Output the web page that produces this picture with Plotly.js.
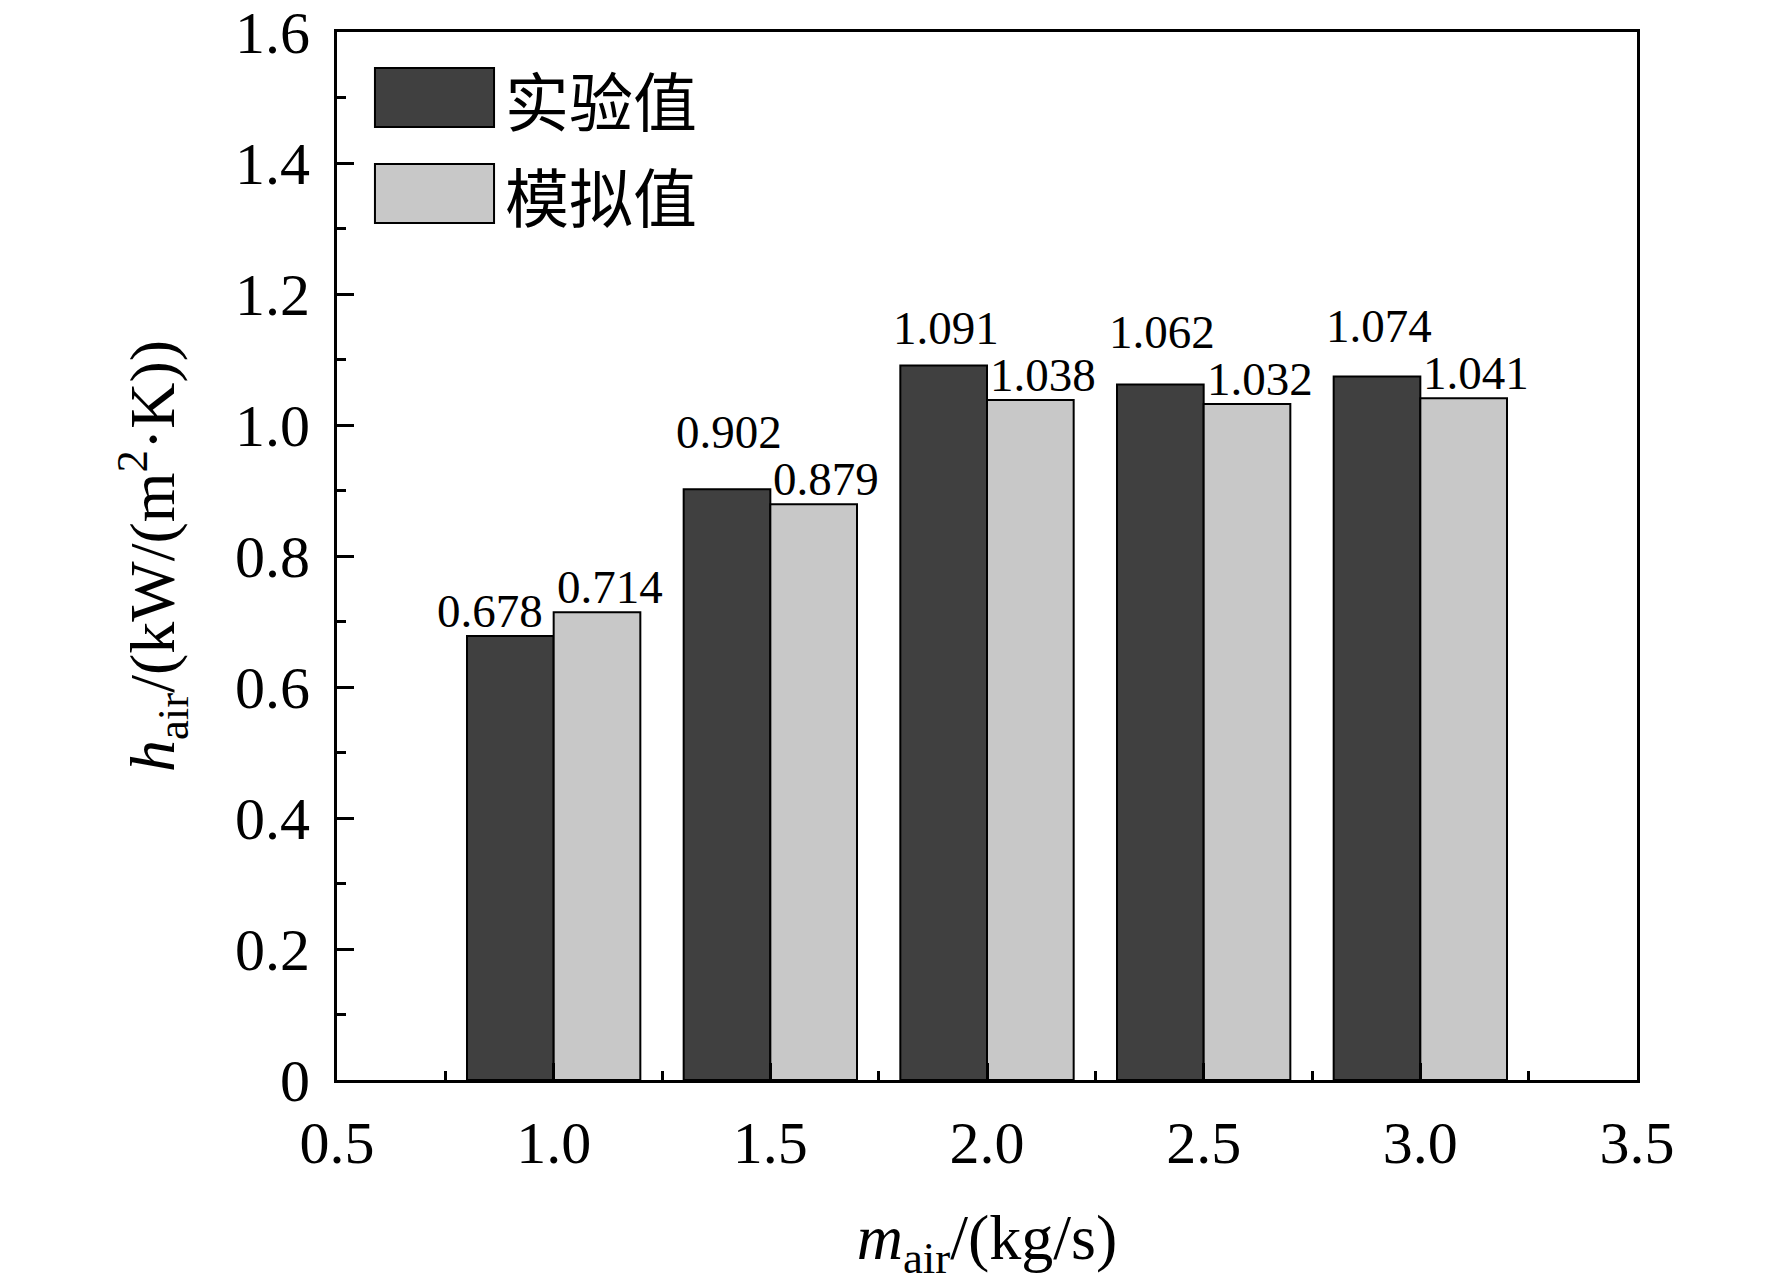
<!DOCTYPE html>
<html>
<head>
<meta charset="utf-8">
<script src="https://cdn.plot.ly/plotly-3.0.1.min.js"></script>
<style>html,body{margin:0;padding:0;background:#fff;}</style>
</head>
<body>
<div id="chart" style="width:1772px;height:1288px;"></div>
<script>
// Data
var massFlow = [1.0, 1.5, 2.0, 2.5, 3.0];
var expValues = [0.678, 0.902, 1.091, 1.062, 1.074];
var simValues = [0.714, 0.879, 1.038, 1.032, 1.041];
var seriesNames = ['实验值', '模拟值'];
var yTickVals = [0, 0.2, 0.4, 0.6, 0.8, 1.0, 1.2, 1.4, 1.6];
var yTickText = ['0', '0.2', '0.4', '0.6', '0.8', '1.0', '1.2', '1.4', '1.6'];
var xTickVals = [0.5, 1.0, 1.5, 2.0, 2.5, 3.0, 3.5];
var xTickText = ['0.5', '1.0', '1.5', '2.0', '2.5', '3.0', '3.5'];

var serif = 'Liberation Serif, Times New Roman, serif';
var cjk = 'Noto Sans CJK SC, sans-serif';
var darkCol = '#404040';
var lightCol = '#c8c8c8';

var W = 1772, H = 1288;
var margin = {l: 337, r: 135, t: 32, b: 208, pad: 0};
var yRange = [0, 1.6];
var xRange = [0.5, 3.5];
var bargap = 0.2;
var groupSpacing = 0.5;
var barWidth = groupSpacing * (1 - bargap) / 2;
var pxPerY = (H - margin.t - margin.b) / (yRange[1] - yRange[0]);

var labelFont = {family: serif, size: 47, color: '#000'};
var labelLift = 25;     // px from bar top to label centre
var labelStack = 47;    // px between stacked label centres

var traces = [
  {
    type: 'bar', name: seriesNames[0], x: massFlow, y: expValues,
    marker: {color: darkCol, line: {color: '#000', width: 2}},
    showlegend: false, hoverinfo: 'x+y'
  },
  {
    type: 'bar', name: seriesNames[1], x: massFlow, y: simValues,
    marker: {color: lightCol, line: {color: '#000', width: 2}},
    showlegend: false, hoverinfo: 'x+y'
  }
];

// value labels placed relative to their bars
var labelAnnots = [];
massFlow.forEach(function(m, i) {
  var e = expValues[i], s = simValues[i];
  // simulated label: starts at the shared edge of the two bars
  labelAnnots.push({
    xref: 'x', yref: 'y', x: m, y: s, xanchor: 'left', yanchor: 'middle',
    xshift: 1, yshift: labelLift, text: s.toFixed(3), showarrow: false, font: labelFont
  });
  if (e < s) {
    // experimental bar is shorter: put its label left of the shared edge
    labelAnnots.push({
      xref: 'x', yref: 'y', x: m, y: e, xanchor: 'right', yanchor: 'middle',
      xshift: -9, yshift: labelLift, text: e.toFixed(3), showarrow: false, font: labelFont
    });
  } else {
    // centred over its bar, stacked above the simulated label
    var lift = Math.max(labelLift, (s - e) * pxPerY + labelLift + labelStack);
    labelAnnots.push({
      xref: 'x', yref: 'y', x: m - barWidth / 2, y: e, xanchor: 'center', yanchor: 'middle',
      xshift: 2, yshift: lift, text: e.toFixed(3), showarrow: false, font: labelFont
    });
  }
});

var layout = {
  width: W, height: H,
  margin: margin,
  paper_bgcolor: '#fff', plot_bgcolor: '#fff',
  barmode: 'group', bargap: bargap, bargroupgap: 0,
  font: {family: serif, color: '#000'},
  xaxis: {
    type: 'linear', range: xRange,
    tickmode: 'array', tickvals: xTickVals, ticktext: xTickText,
    ticks: 'inside', ticklen: 17, tickwidth: 3, tickcolor: '#000',
    minor: {ticks: 'inside', ticklen: 9, tickwidth: 3, tickcolor: '#000', dtick: 0.25, tick0: 0.75, showgrid: false},
    showline: true, linewidth: 3, linecolor: '#000', mirror: true,
    showgrid: false, zeroline: false,
    tickfont: {family: serif, size: 60, color: '#000'},
    ticklabelstandoff: 8,
    title: {text: '<i>m</i><sub>air</sub>/(kg/s)', font: {family: serif, size: 64, color: '#000'}, standoff: 40},
    automargin: false
  },
  yaxis: {
    range: yRange,
    tickmode: 'array', tickvals: yTickVals, ticktext: yTickText,
    ticks: 'inside', ticklen: 17, tickwidth: 3, tickcolor: '#000',
    minor: {ticks: 'inside', ticklen: 9, tickwidth: 3, tickcolor: '#000', dtick: 0.1, tick0: 0, showgrid: false},
    showline: true, linewidth: 3, linecolor: '#000', mirror: true,
    showgrid: false, zeroline: false,
    tickfont: {family: serif, size: 60, color: '#000'},
    ticklabelstandoff: 12,
    title: {text: '<i>h</i><sub>air</sub>/(kW/(m<sup>2</sup>·K))', font: {family: serif, size: 64, color: '#000'}, standoff: 40},
    automargin: false
  },
  shapes: [
    {type: 'rect', xref: 'paper', yref: 'paper', x0: 0.0292, x1: 0.1208, y0: 0.9094, y1: 0.9656,
     fillcolor: darkCol, line: {color: '#000', width: 2}},
    {type: 'rect', xref: 'paper', yref: 'paper', x0: 0.0292, x1: 0.1208, y0: 0.8177, y1: 0.874,
     fillcolor: lightCol, line: {color: '#000', width: 2}}
  ],
  annotations: [
    {xref: 'paper', yref: 'paper', x: 0.128, y: 0.9375, xanchor: 'left', yanchor: 'middle',
     text: seriesNames[0], showarrow: false, font: {family: cjk, size: 64, color: '#000'}},
    {xref: 'paper', yref: 'paper', x: 0.128, y: 0.8458, xanchor: 'left', yanchor: 'middle',
     text: seriesNames[1], showarrow: false, font: {family: cjk, size: 64, color: '#000'}}
  ].concat(labelAnnots)
};

Plotly.newPlot('chart', traces, layout, {displayModeBar: false, staticPlot: true});
</script>
</body>
</html>
